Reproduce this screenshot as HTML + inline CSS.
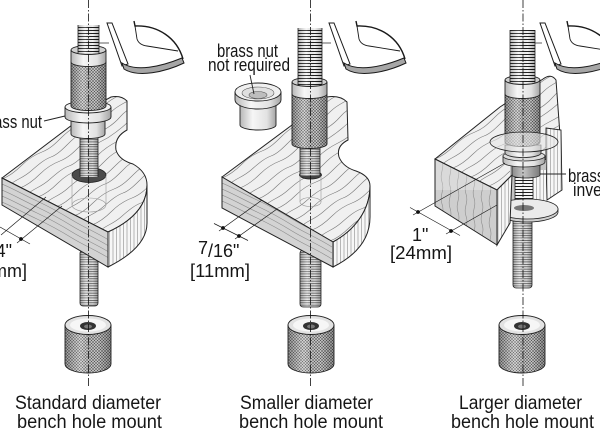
<!DOCTYPE html>
<html><head><meta charset="utf-8"><style>
html,body{margin:0;padding:0;background:#fff;width:600px;height:432px;overflow:hidden}
svg{display:block}
text{font-family:"Liberation Sans",Arial,sans-serif;fill:#161616}
</style></head><body>
<svg width="600" height="432" viewBox="0 0 600 432" xmlns="http://www.w3.org/2000/svg">
<defs>
 <pattern id="kn" width="3" height="3" patternUnits="userSpaceOnUse">
  <rect width="3" height="3" fill="#c6c6c6"/>
  <path d="M0,3L3,0M-1,1L1,-1M2,4L4,2M0,0L3,3M-1,2L1,4M2,-1L4,1" stroke="#4a4a4a" stroke-width="0.45"/>
 </pattern>
 <linearGradient id="cyl" x1="0" x2="1" y1="0" y2="0">
  <stop offset="0" stop-color="#000" stop-opacity="0.28"/>
  <stop offset="0.35" stop-color="#fff" stop-opacity="0.2"/>
  <stop offset="0.7" stop-color="#000" stop-opacity="0.02"/>
  <stop offset="1" stop-color="#000" stop-opacity="0.3"/>
 </linearGradient>
 <linearGradient id="light" x1="0" x2="1" y1="0" y2="0">
  <stop offset="0" stop-color="#b8b8b8"/>
  <stop offset="0.35" stop-color="#f6f6f6"/>
  <stop offset="0.75" stop-color="#e2e2e2"/>
  <stop offset="1" stop-color="#a4a4a4"/>
 </linearGradient>
 <linearGradient id="grayc" x1="0" x2="1" y1="0" y2="0">
  <stop offset="0" stop-color="#8a8a8a"/>
  <stop offset="0.4" stop-color="#c4c4c4"/>
  <stop offset="1" stop-color="#7a7a7a"/>
 </linearGradient>
 <pattern id="th" width="4" height="3" patternUnits="userSpaceOnUse">
  <rect width="4" height="3" fill="#f6f6f6"/>
  <rect width="4" height="1" fill="#1e1e1e"/>
 </pattern>
 <pattern id="th2" width="4" height="2.4" patternUnits="userSpaceOnUse">
  <rect width="4" height="2.4" fill="#e2e2e2"/>
  <rect width="4" height="0.65" fill="#3a3a3a"/>
 </pattern>
 <pattern id="vh" width="3.5" height="10" patternUnits="userSpaceOnUse">
  <rect width="3.5" height="10" fill="#f7f7f7"/>
  <path d="M1,0V10" stroke="#8a8a8a" stroke-width="0.6"/>
 </pattern>
 <path id="gr" d="M0,0c8,-3 14,-8 20,-14s12,-10 20,-13s14,-9 20,-15s12,-10 20,-14s14,-8 20,-15s12,-10 20,-14s14,-9 20,-15" fill="none" stroke="#7a7a7a" stroke-width="0.6"/>
 <path id="gr2" d="M0,0c6,-5 12,-6 20,-13s14,-12 20,-14s12,-8 20,-16s14,-9 20,-13s14,-10 20,-16s12,-8 20,-13s14,-11 20,-15" fill="none" stroke="#7a7a7a" stroke-width="0.6"/>
 <path id="fg" d="M0,0c12,5 20,10 35,17s22,11 35,19s24,12 40,22" fill="none" stroke="#8c8c8c" stroke-width="0.6"/>
 <path id="vg" d="M0,0c3,8 -3,14 0,22s-3,14 0,22s-2,12 0,22" fill="none" stroke="#8c8c8c" stroke-width="0.6"/>

 <clipPath id="c1"><path d="M2,178 L72,125 L100,103 L111,97 Q121,95 127,101 L127,130 Q114,137 116,150 Q119,160 133,164 Q147,172 147,185 C147,207 130,222 108,232 Z"/></clipPath>
 <clipPath id="f1"><path d="M2,178 L108,232 L108,267 L2,205 Z"/></clipPath>
 <clipPath id="c2"><path d="M222,177 L292,125 L320,102 L327,97 Q340,95 347,102 L348,140 Q336,146 339,157 Q343,167 356,171 Q370,176 370,186 C370,210 355,230 333,242 Z"/></clipPath>
 <clipPath id="f2"><path d="M222,177 L333,242 L333,267 L222,208 Z"/></clipPath>
 <clipPath id="c3"><path d="M435,159 L500,107 L543,79 Q551,73 556,80 L560,135 L546,160 L512,175 L497,190 Z"/></clipPath>
 <clipPath id="f3"><path d="M435,159 L497,190 L497,245 L435,206 Z"/></clipPath>

 <g id="frog" fill="none" stroke="#1a1a1a" stroke-width="1">
  <path d="M107,23 L112,23 L128,64 L122,66 Z" fill="#fff"/>
  <path d="M122,63 C136,72 160,67 182,58 L184,63 C165,72 138,78 124,69 Z" fill="#a6a6a6"/>
  <path d="M134,21 L135,26 C158,25 177,38 183,59" stroke-width="1.4"/>
  <path d="M135,26 L137,39 Q139,45 147,46 L178,51" stroke-width="0.9"/>
  <path d="M99,43 L109,43" stroke-width="0.7"/>
 </g>

 <g id="cylnut">
  <path d="M65,325 L65,364 A23,9 0 0 0 111,364 L111,325 Z" fill="url(#kn)"/>
  <path d="M65,325 L65,364 A23,9 0 0 0 111,364 L111,325 Z" fill="url(#cyl)" stroke="#222" stroke-width="0.9"/>
  <ellipse cx="88" cy="325" rx="23" ry="9.5" fill="#e2e2e2" stroke="#222" stroke-width="0.9"/>
  <ellipse cx="88" cy="325" rx="18" ry="6.5" fill="#f6f6f6"/>
  <ellipse cx="88" cy="326" rx="8" ry="4" fill="#333"/>
  <ellipse cx="88" cy="326.5" rx="4" ry="2" fill="#777"/>
 </g>
</defs>

<!-- ================= PANEL 1 ================= -->
<use href="#frog"/>
<rect x="80" y="250" width="18" height="56" rx="3" fill="url(#th2)"/>
<rect x="80" y="250" width="18" height="56" rx="3" fill="url(#cyl)" stroke="#222" stroke-width="0.8"/>
<path d="M2,178 L72,125 L100,103 L111,97 Q121,95 127,101 L127,130 Q114,137 116,150 Q119,160 133,164 Q147,172 147,185 C147,207 130,222 108,232 Z" fill="#f0f0f0"/>
<g clip-path="url(#c1)">
 <use href="#gr" x="2" y="179"/><use href="#gr2" x="11" y="184"/><use href="#gr" x="20" y="188"/><use href="#gr2" x="29" y="193"/>
 <use href="#gr" x="38" y="197"/><use href="#gr2" x="47" y="202"/><use href="#gr" x="56" y="207"/><use href="#gr2" x="65" y="211"/>
 <use href="#gr" x="74" y="216"/><use href="#gr2" x="83" y="220"/><use href="#gr" x="92" y="225"/><use href="#gr2" x="101" y="230"/>
 <use href="#gr" x="110" y="234"/><use href="#gr2" x="119" y="239"/><use href="#gr" x="128" y="243"/><use href="#gr2" x="137" y="248"/>
</g>
<path d="M2,178 L72,125 L100,103 L111,97 Q121,95 127,101 L127,130 Q114,137 116,150 Q119,160 133,164 Q147,172 147,185 C147,207 130,222 108,232 Z" fill="none" stroke="#222" stroke-width="1"/>
<path d="M2,178 L108,232 L108,267 L2,205 Z" fill="#d3d3d3"/>
<g clip-path="url(#f1)">
 <use href="#fg" x="2" y="184"/><use href="#fg" x="2" y="190"/><use href="#fg" x="2" y="196"/><use href="#fg" x="2" y="202"/>
</g>
<path d="M2,178 L108,232 L108,267 L2,205 Z" fill="none" stroke="#222" stroke-width="1"/>
<path d="M108,232 C130,222 147,207 147,185 L147,223 C147,242 130,256 108,267 Z" fill="url(#vh)" stroke="#222" stroke-width="1"/>
<ellipse cx="89" cy="175" rx="17" ry="7.5" fill="#4a4a4a" stroke="#222" stroke-width="0.8"/>
<g fill="none" stroke="#9a9a9a" stroke-width="0.6">
 <path d="M72,176 V205 M106,176 V205"/>
 <ellipse cx="89" cy="205" rx="17" ry="7"/>
</g>
<rect x="80" y="130" width="18" height="47" fill="url(#th2)"/>
<rect x="80" y="130" width="18" height="47" fill="url(#cyl)"/>
<path d="M80,130V177M98,130V177" stroke="#222" stroke-width="0.8"/>
<path d="M71,115 L71,134 A17,4.5 0 0 0 105,134 L105,115 Z" fill="url(#light)" stroke="#222" stroke-width="0.9"/>
<path d="M65,107 L65,117 A23,6 0 0 0 111,117 L111,107 Z" fill="url(#light)" stroke="#222" stroke-width="0.9"/>
<ellipse cx="88" cy="107" rx="23" ry="6" fill="#f2f2f2" stroke="#222" stroke-width="0.9"/>
<path d="M71,62 L71,106 A17.5,4.5 0 0 0 106,106 L106,62 Z" fill="url(#kn)"/>
<path d="M71,62 L71,106 A17.5,4.5 0 0 0 106,106 L106,62 Z" fill="url(#cyl)" stroke="#222" stroke-width="0.9"/>
<ellipse cx="88.5" cy="50" rx="17.5" ry="4.5" fill="#cfcfcf" stroke="#222" stroke-width="0.9"/>
<rect x="78" y="25" width="21" height="28" fill="url(#th)"/>
<rect x="78" y="25" width="21" height="28" fill="url(#cyl)"/>
<path d="M78,25V53M99,25V53" stroke="#222" stroke-width="0.8"/>
<path d="M71,50 A17.5,4.5 0 0 0 106,50 L106,62 A17.5,4.5 0 0 1 71,62 Z" fill="url(#light)" stroke="#222" stroke-width="0.9"/>
<use href="#cylnut"/>
<text x="-19" y="128" font-size="18" textLength="61" lengthAdjust="spacingAndGlyphs">brass nut</text>
<path d="M44,121 L65,116" stroke="#222" stroke-width="0.9"/>
<g stroke="#1a1a1a" stroke-width="0.7" fill="none">
 <path d="M0,227 L30,244"/>
 <path d="M17,243 L62,206"/>
 <path d="M1,235 L46,197"/>
</g>
<circle cx="21" cy="239" r="1.9" fill="#111"/>
<text x="12" y="257" font-size="18" text-anchor="end">3/4"</text>
<text x="27" y="277" font-size="18" text-anchor="end">[19mm]</text>
<text x="15" y="409" font-size="19" textLength="146" lengthAdjust="spacingAndGlyphs">Standard diameter</text>
<text x="17" y="428" font-size="19" textLength="145" lengthAdjust="spacingAndGlyphs">bench hole mount</text>

<!-- ================= PANEL 2 ================= -->
<use href="#frog" transform="translate(222,0)"/>
<rect x="300" y="250" width="21" height="57" rx="3" fill="url(#th2)"/>
<rect x="300" y="250" width="21" height="57" rx="3" fill="url(#cyl)" stroke="#222" stroke-width="0.8"/>
<path d="M222,177 L292,125 L320,102 L327,97 Q340,95 347,102 L348,140 Q336,146 339,157 Q343,167 356,171 Q370,176 370,186 C370,210 355,230 333,242 Z" fill="#f0f0f0"/>
<g clip-path="url(#c2)">
 <use href="#gr" x="222" y="178"/><use href="#gr2" x="231" y="183"/><use href="#gr" x="240" y="188"/><use href="#gr2" x="249" y="194"/>
 <use href="#gr" x="258" y="199"/><use href="#gr2" x="267" y="204"/><use href="#gr" x="276" y="209"/><use href="#gr2" x="285" y="215"/>
 <use href="#gr" x="294" y="220"/><use href="#gr2" x="303" y="225"/><use href="#gr" x="312" y="230"/><use href="#gr2" x="321" y="236"/>
 <use href="#gr" x="330" y="241"/><use href="#gr2" x="339" y="246"/><use href="#gr" x="348" y="251"/><use href="#gr2" x="357" y="257"/>
 <use href="#gr" x="366" y="262"/>
</g>
<path d="M222,177 L292,125 L320,102 L327,97 Q340,95 347,102 L348,140 Q336,146 339,157 Q343,167 356,171 Q370,176 370,186 C370,210 355,230 333,242 Z" fill="none" stroke="#222" stroke-width="1"/>
<path d="M222,177 L333,242 L333,267 L222,208 Z" fill="#d3d3d3"/>
<g clip-path="url(#f2)">
 <use href="#fg" x="222" y="183"/><use href="#fg" x="222" y="189"/><use href="#fg" x="222" y="195"/><use href="#fg" x="222" y="201"/>
</g>
<path d="M222,177 L333,242 L333,267 L222,208 Z" fill="none" stroke="#222" stroke-width="1"/>
<path d="M333,242 C355,230 370,210 370,186 L370,217 C370,240 355,256 333,267 Z" fill="url(#vh)" stroke="#222" stroke-width="1"/>
<ellipse cx="310.5" cy="175" rx="11" ry="4" fill="#444" stroke="#222" stroke-width="0.8"/>
<g fill="none" stroke="#9a9a9a" stroke-width="0.6">
 <path d="M300,176 V202 M321,176 V202"/>
 <ellipse cx="310.5" cy="202" rx="10.5" ry="4.5"/>
</g>
<rect x="300" y="140" width="20" height="36" fill="url(#th2)"/>
<rect x="300" y="140" width="20" height="36" fill="url(#cyl)"/>
<path d="M300,140V176M320,140V176" stroke="#222" stroke-width="0.8"/>
<path d="M292,94 L292,144 A17.5,4.5 0 0 0 327,144 L327,94 Z" fill="url(#kn)"/>
<path d="M292,94 L292,144 A17.5,4.5 0 0 0 327,144 L327,94 Z" fill="url(#cyl)" stroke="#222" stroke-width="0.9"/>
<ellipse cx="309.5" cy="82" rx="17.5" ry="4.5" fill="#cfcfcf" stroke="#222" stroke-width="0.9"/>
<rect x="298" y="28" width="24" height="57" fill="url(#th)"/>
<rect x="298" y="28" width="24" height="57" fill="url(#cyl)"/>
<path d="M298,28V85M322,28V85" stroke="#222" stroke-width="0.8"/>
<path d="M292,82 A17.5,4.5 0 0 0 327,82 L327,94 A17.5,4.5 0 0 1 292,94 Z" fill="url(#light)" stroke="#222" stroke-width="0.9"/>
<path d="M240,100 L240,125 A18,5 0 0 0 276,125 L276,100 Z" fill="url(#light)" stroke="#222" stroke-width="0.9"/>
<path d="M235,92 L235,100 A23,9 0 0 0 281,100 L281,92 Z" fill="url(#light)" stroke="#222" stroke-width="0.9"/>
<ellipse cx="258" cy="92" rx="23" ry="9" fill="#f0f0f0" stroke="#222" stroke-width="0.9"/>
<ellipse cx="258" cy="93" rx="16" ry="6" fill="#e0e0e0" stroke="#555" stroke-width="0.6"/>
<ellipse cx="258" cy="95" rx="9" ry="3.5" fill="#bdbdbd" stroke="#555" stroke-width="0.6"/>
<path d="M250,75 L254,94" stroke="#222" stroke-width="0.9"/>
<text x="217" y="57" font-size="18" textLength="61" lengthAdjust="spacingAndGlyphs">brass nut</text>
<text x="208" y="71" font-size="18" textLength="82" lengthAdjust="spacingAndGlyphs">not required</text>
<use href="#cylnut" transform="translate(223,0)"/>
<g stroke="#1a1a1a" stroke-width="0.7" fill="none">
 <path d="M214,223.5 L248,240.5"/>
 <path d="M219,231 L262,200"/>
 <path d="M235,239 L277,209"/>
</g>
<circle cx="223" cy="228" r="1.9" fill="#111"/>
<circle cx="239" cy="236" r="1.9" fill="#111"/>
<text x="198" y="257" font-size="18"><tspan dy="-3">7</tspan><tspan dy="3">/16"</tspan></text>
<text x="190" y="277" font-size="18" textLength="60" lengthAdjust="spacingAndGlyphs">[11mm]</text>
<text x="240" y="409" font-size="19" textLength="133" lengthAdjust="spacingAndGlyphs">Smaller diameter</text>
<text x="239" y="428" font-size="19" textLength="144" lengthAdjust="spacingAndGlyphs">bench hole mount</text>

<!-- ================= PANEL 3 ================= -->
<use href="#frog" transform="translate(433,0)"/>
<rect x="513" y="205" width="19" height="83" rx="3" fill="url(#th2)"/>
<rect x="513" y="205" width="19" height="83" rx="3" fill="url(#cyl)" stroke="#222" stroke-width="0.8"/>
<path d="M435,159 L500,107 L543,79 Q551,73 556,80 L560,135 L546,160 L512,175 L497,190 Z" fill="#f0f0f0"/>
<g clip-path="url(#c3)">
 <use href="#gr" x="435" y="159"/><use href="#gr2" x="444" y="163"/><use href="#gr" x="453" y="168"/><use href="#gr2" x="462" y="172"/>
 <use href="#gr" x="471" y="177"/><use href="#gr2" x="480" y="181"/><use href="#gr" x="489" y="186"/><use href="#gr2" x="498" y="191"/>
 <use href="#gr" x="507" y="195"/><use href="#gr2" x="516" y="200"/><use href="#gr" x="525" y="204"/><use href="#gr2" x="534" y="209"/>
 <use href="#gr" x="543" y="213"/><use href="#gr2" x="552" y="218"/><use href="#gr" x="561" y="222"/>
</g>
<path d="M435,159 L500,107 L543,79 Q551,73 556,80 L560,135 L546,160 L512,175 L497,190 Z" fill="none" stroke="#222" stroke-width="1"/>
<path d="M546,128 L561,130 L562,190 L547,200 L546,160 Z" fill="url(#vh)" stroke="#222" stroke-width="0.9"/>
<rect x="510" y="160" width="36" height="46" fill="#c4c4c4"/>
<rect x="533" y="170" width="13" height="36" fill="url(#vh)"/>
<rect x="515" y="172" width="18" height="35" fill="url(#th)"/>
<path d="M515,172V207M533,172V207" stroke="#222" stroke-width="0.8"/>
<path d="M512,160 L512,175 A14,3 0 0 0 540,175 L540,160 Z" fill="url(#grayc)" stroke="#222" stroke-width="0.8"/>
<path d="M503,156 L503,162 A21,5 0 0 0 545,162 L545,156 Z" fill="url(#light)" stroke="#222" stroke-width="0.8"/>
<ellipse cx="524" cy="156" rx="21" ry="5" fill="#dcdcdc" stroke="#222" stroke-width="0.8"/>
<path d="M505,145 L505,153 A18,4.5 0 0 0 541,153 L541,145 Z" fill="url(#light)" stroke="#222" stroke-width="0.8"/>
<path d="M505,94 L505,142 A17.5,4.5 0 0 0 540,142 L540,94 Z" fill="url(#kn)"/>
<path d="M505,94 L505,142 A17.5,4.5 0 0 0 540,142 L540,94 Z" fill="url(#cyl)" stroke="#222" stroke-width="0.9"/>
<ellipse cx="524" cy="142" rx="34" ry="10" fill="#e6e6e6" fill-opacity="0.6" stroke="#222" stroke-width="0.8"/>
<ellipse cx="522.5" cy="80" rx="17.5" ry="4.5" fill="#cfcfcf" stroke="#222" stroke-width="0.9"/>
<rect x="510" y="30" width="25" height="53" fill="url(#th)"/>
<rect x="510" y="30" width="25" height="53" fill="url(#cyl)"/>
<path d="M510,30V83M535,30V83" stroke="#222" stroke-width="0.8"/>
<path d="M505,80 A17.5,4.5 0 0 0 540,80 L540,94 A17.5,4.5 0 0 1 505,94 Z" fill="url(#light)" stroke="#222" stroke-width="0.9"/>
<path d="M496,209 L496,212 A31,10 0 0 0 558,212 L558,209 Z" fill="#cfcfcf" stroke="#222" stroke-width="0.8"/>
<ellipse cx="527" cy="209" rx="31" ry="10" fill="#ebebeb" stroke="#222" stroke-width="0.8"/>
<ellipse cx="524" cy="208" rx="10" ry="3" fill="#777"/>
<path d="M435,159 L497,190 L497,245 L435,206 Z" fill="#cecece"/>
<g clip-path="url(#f3)">
 <use href="#vg" x="442" y="160"/><use href="#vg" x="450" y="164"/><use href="#vg" x="458" y="168"/><use href="#vg" x="466" y="172"/>
 <use href="#vg" x="474" y="176"/><use href="#vg" x="482" y="180"/><use href="#vg" x="490" y="184"/>
 <path d="M435,159 L497,190 L435,190 Z" fill="#fff" fill-opacity="0.25"/>
</g>
<path d="M435,159 L497,190 L497,245 L435,206 Z" fill="none" stroke="#222" stroke-width="1"/>
<path d="M497,190 L512,175 L510,223 L497,245 Z" fill="url(#vh)" stroke="#222" stroke-width="1"/>
<path d="M540,174 L566,174" stroke="#222" stroke-width="0.9"/>
<text x="568" y="182" font-size="18" textLength="61" lengthAdjust="spacingAndGlyphs">brass nut</text>
<text x="573" y="196" font-size="18" textLength="56" lengthAdjust="spacingAndGlyphs">inverted</text>
<use href="#cylnut" transform="translate(434,0)"/>
<g stroke="#1a1a1a" stroke-width="0.7" fill="none">
 <path d="M410,207.5 L460,235.5"/>
 <path d="M413,215 L505,163"/>
 <path d="M446,234 L497,205"/>
</g>
<circle cx="418" cy="212" r="1.9" fill="#111"/>
<circle cx="451" cy="231" r="1.9" fill="#111"/>
<text x="412" y="241" font-size="18">1"</text>
<text x="390" y="259" font-size="18" textLength="62" lengthAdjust="spacingAndGlyphs">[24mm]</text>
<text x="459" y="409" font-size="19" textLength="123" lengthAdjust="spacingAndGlyphs">Larger diameter</text>
<text x="451" y="428" font-size="19" textLength="143" lengthAdjust="spacingAndGlyphs">bench hole mount</text>

<g stroke="#111" stroke-width="0.8" stroke-dasharray="8 2 1.5 2" fill="none">
 <path d="M88.5,0V388"/>
 <path d="M310.5,0V388"/>
 <path d="M523,0V388"/>
</g>
</svg>
</body></html>
